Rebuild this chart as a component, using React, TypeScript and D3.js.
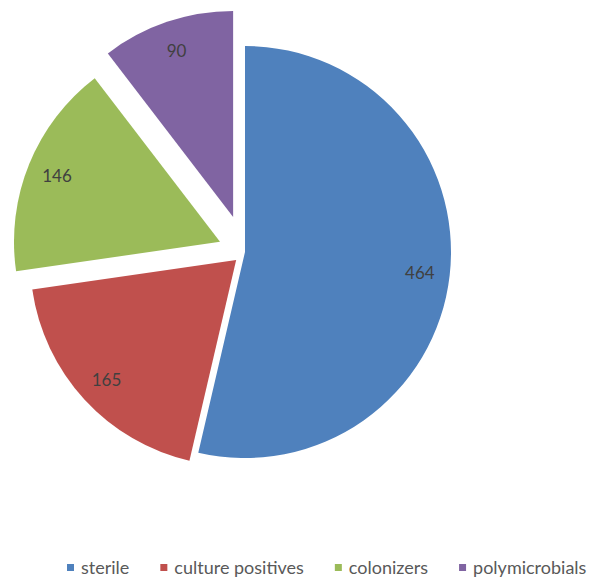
import React, { useEffect, useRef } from "react";
import * as d3 from "d3";

const categories = ["sterile", "culture positives", "colonizers", "polymicrobials"];
const values = [464, 165, 146, 90];
const colors = ["#4F81BD", "#C0504D", "#9BBB59", "#8064A2"];
const explode = [0, 12, 27, 37];

const W = 611;
const H = 581;
const FONT = "Lato, 'Open Sans', 'Liberation Sans', sans-serif";

export default function App() {
  const ref = useRef<SVGSVGElement | null>(null);

  useEffect(() => {
    const svg = d3.select(ref.current);
    svg.selectAll("*").remove();
    const cx = 245;
    const cy = 252;
    const R = 206;
    const labelR = 176;

    const pie = d3
      .pie<number>()
      .sort(null)
      .value((d) => d)
      .startAngle(0)
      .endAngle(2 * Math.PI);
    const arcs = pie(values);
    const arc = d3.arc<d3.PieArcDatum<number>>().innerRadius(0).outerRadius(R);

    const g = svg.append("g").attr("transform", `translate(${cx},${cy})`);
    const slice = g
      .selectAll("g.slice")
      .data(arcs)
      .enter()
      .append("g")
      .attr("class", "slice")
      .attr("transform", (d, i) => {
        const mid = (d.startAngle + d.endAngle) / 2;
        return `translate(${explode[i] * Math.sin(mid)},${-explode[i] * Math.cos(mid)})`;
      });
    slice
      .append("path")
      .attr("d", arc)
      .attr("fill", (_d, i) => colors[i]);
    slice
      .append("text")
      .attr("x", (d) => labelR * Math.sin((d.startAngle + d.endAngle) / 2))
      .attr("y", (d) => -labelR * Math.cos((d.startAngle + d.endAngle) / 2))
      .attr("text-anchor", "middle")
      .attr("dominant-baseline", "central")
      .attr("font-family", FONT)
      .attr("font-size", 17)
      .attr("fill", "#404040")
      .text((d) => String(d.data));

    // legend
    const lg = svg.append("g").attr("transform", `translate(0,567)`);
    let x = 67;
    categories.forEach((c, i) => {
      lg.append("rect")
        .attr("x", x)
        .attr("y", -3)
        .attr("width", 7)
        .attr("height", 7)
        .attr("fill", colors[i]);
      const t = lg
        .append("text")
        .attr("x", x + 14)
        .attr("y", 0)
        .attr("dominant-baseline", "central")
        .attr("font-family", FONT)
        .attr("font-size", 18)
        .attr("fill", "#595959")
        .text(c);
      const w = (t.node() as SVGTextElement).getComputedTextLength();
      x += 14 + w + 31;
    });
  }, []);

  return (
    <svg
      ref={ref}
      width={W}
      height={H}
      style={{ position: "absolute", left: 0, top: 0, background: "#fff" }}
    />
  );
}
